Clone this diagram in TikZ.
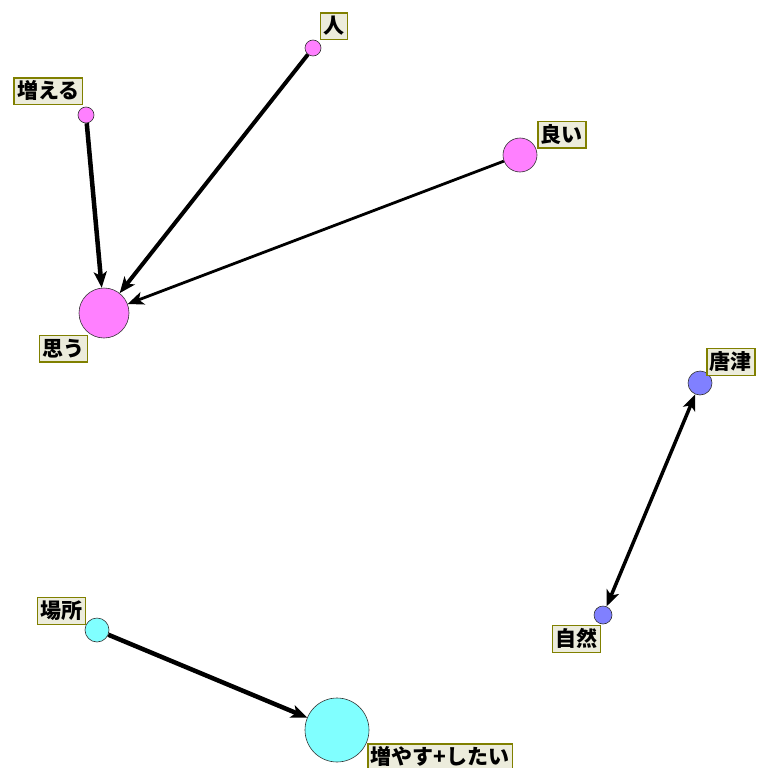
\documentclass[tikz,border=0pt]{standalone}
\usepackage{fontspec}
\newfontfamily\jpfont{Noto Sans CJK JP}
\usetikzlibrary{positioning, arrows.meta}
\definecolor{pinknode}{RGB}{255,128,255}
\definecolor{cyannode}{RGB}{128,255,255}
\definecolor{bluenode}{RGB}{128,128,255}
\definecolor{lblfill}{RGB}{236,236,220}
\definecolor{lbldraw}{RGB}{128,128,0}
\tikzset{
  word/.style={circle, draw=black!80, line width=0.6pt, inner sep=0pt},
  wlabel/.style={draw=lbldraw, fill=lblfill, line width=1.3pt, inner xsep=3pt, inner ysep=2.5pt,
    font=\jpfont\bfseries\fontsize{21}{23}\selectfont, text height=18pt, text depth=3.5pt},
  link/.style={-{Stealth[length=16pt, width=13pt, inset=4pt]}, line width=#1},
}

\begin{document}
\begin{tikzpicture}[x=1pt, y=-1pt]
\useasboundingbox (0,0) rectangle (759,768);
% Nodes
\node (hito) [word, fill=pinknode, minimum size=16pt] at (313,48) {};
\node (fueru) [word, fill=pinknode, minimum size=16pt] at (86,115) {};
\node (omou) [word, fill=pinknode, minimum size=50pt] at (104,313) {};
\node (yoi) [word, fill=pinknode, minimum size=34pt] at (520,155) {};
\node (karatsu) [word, fill=bluenode, minimum size=24pt] at (700,383) {};
\node (shizen) [word, fill=bluenode, minimum size=18pt] at (603,615) {};
\node (basho) [word, fill=cyannode, minimum size=24pt] at (97,630) {};
\node (fuyasu) [word, fill=cyannode, minimum size=64pt] at (337,730) {};

% Labels
\node (lhito) [wlabel, above right=2pt and 1pt of hito.north east] {人};
\node (lfueru) [wlabel, above left=4pt and -3pt of fueru.north west] {増える};
\node (lomou) [wlabel, below left=4pt and -2pt of omou.south west] {思う};
\node (lyoi) [wlabel, above right=-6pt and 5pt of yoi.north east] {良い};
\node (lkaratsu) [wlabel, above right=-1.5pt and -2.5pt of karatsu.north east] {唐津};
\node (lshizen) [wlabel, below left=3.5pt and -4.5pt of shizen.south west] {自然};
\node (lbasho) [wlabel, above left=-3.5pt and 2.5pt of basho.north west] {場所};
\node (lfuyasu) [wlabel, below right=-9.5pt and 7.5pt of fuyasu.south east] {増やす+したい};

% Connectors
\draw [link=4.5pt] (fueru) -- (omou);
\draw [link=4pt] (hito) -- (omou);
\draw [link=2.8pt] (yoi) -- (omou);
\draw [link=3.5pt, {Stealth[length=16pt, width=13pt, inset=4pt]}-{Stealth[length=16pt, width=13pt, inset=4pt]}] (karatsu) -- (shizen);
\draw [link=4.5pt] (basho) -- (fuyasu);

\end{tikzpicture}
\end{document}
